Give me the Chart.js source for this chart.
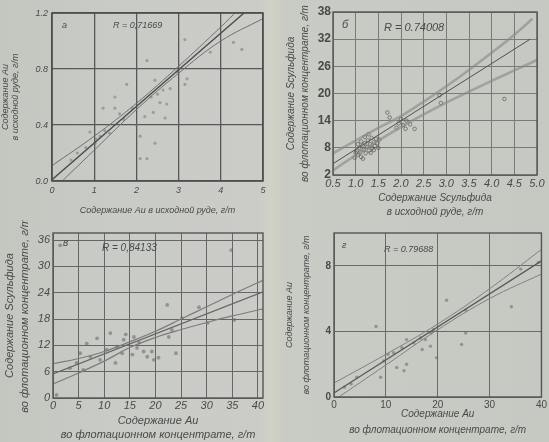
<!DOCTYPE html>
<html lang="ru">
<head>
<meta charset="UTF-8">
<title>Корреляционные зависимости</title>
<script src="https://cdn.jsdelivr.net/npm/chart.js"></script>
<style>
  html, body { margin: 0; padding: 0; }
  body {
    width: 549px; height: 442px; overflow: hidden; position: relative;
    background: linear-gradient(to right, #c3c7bf 0%, #c9cbc6 20%, #cbccc8 47%, #d0d1c6 49.6%, #c9cbc5 52%, #c6c9c2 100%);
  }
  canvas { position: absolute; filter: blur(0.45px); }
</style>
</head>
<body>
<canvas id="chA" width="274" height="220" style="left:0;top:0"></canvas>
<canvas id="chB" width="275" height="220" style="left:274px;top:0"></canvas>
<canvas id="chC" width="274" height="222" style="left:0;top:220px"></canvas>
<canvas id="chD" width="275" height="222" style="left:274px;top:220px"></canvas>

<script>
// ---- данные: а) Au в руде
const xTicksA = [0, 1, 2, 3, 4, 5];
const xLabelsA = ['0', '1', '2', '3', '4', '5'];
const yTicksA = [0, 0.4, 0.8, 1.2];
const yLabelsA = ['0.0', '0.4', '0.8', '1.2'];
const pointsA = [[2.25,0.86],[3.15,1.01],[4.5,0.94],[4.3,0.99],[1.77,0.69],[1.49,0.6],[1.49,0.52],[1.21,0.52],
  [2.44,0.72],[2.63,0.65],[2.8,0.66],[3.15,0.69],[2.56,0.56],[2.72,0.55],[2.2,0.46],[2.4,0.49],[2.68,0.45],
  [2.09,0.32],[2.44,0.27],[2.09,0.16],[2.25,0.16],[1.02,0.27],[1.14,0.32],[0.9,0.35],[1.37,0.34],[2.0,0.4],
  [1.9,0.52],[2.96,0.78],[3.2,0.73],[1.7,0.44],[0.8,0.24],[0.6,0.2],[0.45,0.15],[3.75,0.92],[1.05,0.3],
  [1.25,0.36],[2.35,0.6],[2.5,0.62],[1.6,0.48]];
const lineA = [[0, 0.01], [4.55, 1.2]];
const upperA = [[0,0.11],[1,0.32],[2,0.555],[3,0.82],[4,1.1],[4.4,1.22]];
const lowerA = [[0,-0.07],[1,0.22],[2,0.51],[3,0.77],[4,1.0],[5,1.16]];

// ---- б) S сульфида
const xTicksB = [0.5, 1.0, 1.5, 2.0, 2.5, 3.0, 3.5, 4.0, 4.5, 5.0];
const xLabelsB = ['0.5', '1.0', '1.5', '2.0', '2.5', '3.0', '3.5', '4.0', '4.5', '5.0'];
const yTicksB = [2, 8, 14, 20, 26, 32, 38];
const yLabelsB = ['2', '8', '14', '20', '26', '32', '38'];
const pointsB = [[1.02,7.2],[1.05,6.5],[1.08,8.0],[1.1,7.0],[1.12,6.0],[1.15,8.5],[1.18,7.6],[1.2,9.0],
  [1.22,6.8],[1.25,8.2],[1.27,9.6],[1.3,7.4],[1.32,8.8],[1.35,10.2],[1.37,7.9],[1.4,9.2],[1.42,8.4],
  [1.45,10.0],[1.48,9.0],[1.5,8.0],[1.52,9.8],[1.12,9.4],[1.2,10.4],[1.28,11.0],[0.98,5.8],[1.0,6.9],
  [1.16,5.6],[1.33,6.9],[1.4,7.5],[1.05,8.8],[1.7,15.8],[1.75,14.7],[1.95,13.4],[2.05,13.0],[2.1,12.2],
  [2.2,13.2],[2.3,12.2],[1.9,12.4],[2.85,19.6],[2.88,17.9],[4.28,18.8],[2.0,14.4],[2.12,14.0]];
const lineB = [[0.5, 4.5], [4.85, 32]];
const upperB = [[0.5,6.8],[1.0,9.6],[1.5,12.4],[2.0,15.0],[2.5,18.2],[3.0,21.6],[3.5,25.2],[4.0,29],[4.5,33],[4.9,36.5]];
const lowerB = [[0.5,3.0],[1.0,6.4],[1.5,9.6],[2.0,12.6],[2.5,15.4],[3.0,18.0],[3.5,20.4],[4.0,22.8],[4.5,25.1],[5.0,27.4]];

// ---- в) S сульфида / Au в концентрате
const xTicksC = [0, 5, 10, 15, 20, 25, 30, 35, 40];
const xLabelsC = ['0', '5', '10', '15', '20', '25', '30', '35', '40'];
const yTicksC = [0, 6, 12, 18, 24, 30, 36];
const yLabelsC = ['0', '6', '12', '18', '24', '30', '36'];
const pointsC = [[1.4,34.8],[0.7,0.7],[22.3,21.2],[25.2,18.2],[24,10.2],[12.2,8],[18.4,9.4],[19.7,8.7],
  [20.6,9.2],[6.6,12.4],[8.6,13.6],[10.5,11],[12.5,11.7],[13.8,13.3],[14.2,14.5],[15.8,13.9],[16.8,12.6],
  [16.4,11.4],[9.2,8.7],[7.3,9.4],[4.6,8],[3.3,6.8],[5.9,6.4],[5.3,10.2],[11.2,14.8],[13.5,10.2],
  [15.5,9.9],[17.7,10.6],[19.3,10.6],[22.6,13.9],[23.2,15.5],[35.4,17.8],[30.2,17.1],[28.5,20.7],[34.8,33.7]];
const lineC = [[0, 5.5], [41, 24.2]];
const upperC = [[0,7.8],[5,9],[10,10.6],[15,12.8],[20,15.2],[25,18],[30,20.8],[35,23.6],[41,26.8]];
const lowerC = [[0,3.2],[5,5.7],[10,8.4],[15,11.5],[20,13.8],[25,15.6],[30,17.2],[35,18.7],[41,20.3]];

// ---- г) Au в концентрате
const xTicksD = [0, 10, 20, 30, 40];
const xLabelsD = ['0', '10', '20', '30', '40'];
const yTicksD = [0, 4, 8];
const yLabelsD = ['0', '4', '8'];
const pointsD = [[21.7,5.9],[25.4,5.3],[24.6,3.2],[25.4,3.9],[8.1,4.3],[34.2,5.5],[36,7.8],[39.4,8.2],
  [19.8,2.4],[14,2.0],[13.5,1.6],[12.1,1.8],[9.6,2.2],[9,1.2],[4.4,1.2],[3.3,0.8],[2.0,0.6],[13.1,3.0],
  [14,3.5],[15.4,3.3],[16.7,3.6],[17.6,3.5],[18.7,3.9],[17,2.9],[11.5,2.7],[19.2,4.1],[18.6,3.1],[10.4,2.6]];
const lineD = [[0, 0.25], [40, 8.3]];
const upperD = [[0,0.85],[10,2.6],[20,4.45],[30,6.6],[40,9.0]];
const lowerD = [[0,-0.2],[10,1.95],[20,4.1],[30,6.0],[40,7.5]];

const FONT = "'Liberation Sans', Arial, sans-serif";
const INK = '#4a4a4a';

const xy = arr => arr.map(p => ({ x: p[0], y: p[1] }));

// рамка графика и надписи внутри поля
const frame = {
  id: 'frame',
  afterDraw(chart, args, o) {
    const { ctx, chartArea: a } = chart;
    ctx.save();
    ctx.strokeStyle = o.color;
    ctx.lineWidth = o.width;
    ctx.strokeRect(a.left, a.top, a.right - a.left, a.bottom - a.top);
    ctx.fillStyle = INK;
    ctx.textBaseline = 'middle';
    ctx.font = o.font;
    ctx.fillText(o.letter, a.left + o.letterDx, a.top + o.letterDy);
    ctx.fillText(o.r, a.left + o.rDx, a.top + o.rDy);
    ctx.restore();
  }
};

function axis(o) {
  return {
    type: 'linear',
    min: o.min, max: o.max,
    afterBuildTicks: s => { s.ticks = o.ticks.map(v => ({ value: v })); },
    afterFit: s => { if (o.width) s.width = o.width; if (o.height) s.height = o.height; },
    ticks: {
      color: INK, font: o.tickFont, padding: o.tickPad,
      callback: (v, i) => o.labels[i]
    },
    grid: { color: o.gridColor, lineWidth: o.gridWidth, drawTicks: false },
    border: { display: false },
    title: {
      display: true, text: o.title, color: INK, font: o.titleFont,
      padding: o.titlePad
    }
  };
}

function panel(id, o) {
  return new Chart(document.getElementById(id), {
    type: 'scatter',
    data: {
      datasets: [
        { data: xy(o.upper), showLine: true, borderColor: o.bandColor, borderWidth: o.bandWidth, pointRadius: 0, tension: 0.4 },
        { data: xy(o.lower), showLine: true, borderColor: o.bandColor, borderWidth: o.bandWidth, pointRadius: 0, tension: 0.4 },
        { data: xy(o.line), showLine: true, borderColor: o.lineColor, borderWidth: o.lineWidth, pointRadius: 0 },
        { data: xy(o.points), pointRadius: o.pointR, backgroundColor: o.pointFill,
          borderColor: o.pointStroke, borderWidth: o.pointBorder }
      ]
    },
    options: {
      responsive: false, animation: false, events: [],
      layout: { padding: { top: o.padTop, right: o.padRight, bottom: 0, left: 0 } },
      plugins: { legend: { display: false }, tooltip: { enabled: false }, frame: o.frame },
      scales: { x: axis(o.x), y: axis(o.y) }
    },
    plugins: [frame]
  });
}

panel('chA', {
  points: pointsA, line: lineA, upper: upperA, lower: lowerA,
  bandColor: '#707070', bandWidth: 1, lineColor: '#4e4e4e', lineWidth: 1.4,
  pointR: 1.6, pointFill: 'rgba(120,120,120,0.55)', pointStroke: 'rgba(0,0,0,0)', pointBorder: 0,
  padTop: 13, padRight: 11,
  frame: { color: '#4a4a4a', width: 1.5, font: 'italic 9px ' + FONT, letter: 'а', letterDx: 10, letterDy: 12, r: 'R = 0,71669', rDx: 61, rDy: 12 },
  x: { min: 0, max: 5, ticks: xTicksA, labels: xLabelsA, height: 39, tickFont: { family: FONT, size: 9, style: 'italic' }, tickPad: 4,
       gridColor: '#585858', gridWidth: 1.3, title: 'Содержание Au в исходной руде, г/т',
       titleFont: { family: FONT, size: 9, style: 'italic' }, titlePad: { top: 0, bottom: 4 } },
  y: { min: 0, max: 1.2, ticks: yTicksA, labels: yLabelsA, width: 52, tickFont: { family: FONT, size: 9, style: 'italic' }, tickPad: 4,
       gridColor: '#585858', gridWidth: 1.3, title: ['Содержание Au', 'в исходной руде, г/т'],
       titleFont: { family: FONT, size: 9, style: 'italic', lineHeight: '9.5px' }, titlePad: { top: 1, bottom: 0 } }
});

panel('chB', {
  points: pointsB, line: lineB, upper: upperB, lower: lowerB,
  bandColor: 'rgba(135,135,135,0.6)', bandWidth: 2.6, lineColor: '#505050', lineWidth: 1,
  pointR: 1.8, pointFill: 'rgba(0,0,0,0)', pointStroke: 'rgba(80,80,80,0.8)', pointBorder: 0.8,
  padTop: 12, padRight: 12,
  frame: { color: '#555', width: 1.4, font: 'italic 11px ' + FONT, letter: 'б', letterDx: 9, letterDy: 13, r: 'R = 0.74008', rDx: 51, rDy: 16 },
  x: { min: 0.5, max: 5.0, ticks: xTicksB, labels: xLabelsB, height: 45, tickFont: { family: FONT, size: 11, style: 'italic' }, tickPad: 2,
       gridColor: '#7a7a7a', gridWidth: 1, title: ['Содержание Sсульфида', 'в исходной руде, г/т'],
       titleFont: { family: FONT, size: 10, style: 'italic', lineHeight: '14px' }, titlePad: { top: 0, bottom: 1 } },
  y: { min: 2, max: 38, ticks: yTicksB, labels: yLabelsB, width: 59, tickFont: { family: FONT, size: 12, weight: 'bold' }, tickPad: 2,
       gridColor: '#7a7a7a', gridWidth: 1, title: ['Содержание Sсульфида', 'во флотационном концентрате, г/т'],
       titleFont: { family: FONT, size: 10, style: 'italic', lineHeight: '14px' }, titlePad: { top: 10, bottom: 0 } }
});

panel('chC', {
  points: pointsC, line: lineC, upper: upperC, lower: lowerC,
  bandColor: '#7c7c7c', bandWidth: 1.2, lineColor: '#666', lineWidth: 1.3,
  pointR: 1.9, pointFill: 'rgba(100,100,100,0.55)', pointStroke: 'rgba(0,0,0,0)', pointBorder: 0,
  padTop: 13, padRight: 11,
  frame: { color: '#555', width: 1.4, font: 'italic 10px ' + FONT, letter: 'в', letterDx: 10, letterDy: 10, r: 'R = 0,84133', rDx: 49, rDy: 15 },
  x: { min: 0, max: 41, ticks: xTicksC, labels: xLabelsC, height: 44, tickFont: { family: FONT, size: 11, style: 'italic' }, tickPad: 1,
       gridColor: '#666', gridWidth: 1, title: ['Содержание Au', 'во флотационном концентрате, г/т'],
       titleFont: { family: FONT, size: 11, style: 'italic', lineHeight: '14px' }, titlePad: { top: 0, bottom: 0 } },
  y: { min: 0, max: 37.6, ticks: yTicksC, labels: yLabelsC, width: 53, tickFont: { family: FONT, size: 11, style: 'italic' }, tickPad: 3,
       gridColor: '#666', gridWidth: 1, title: ['Содержание Sсульфида', 'во флотационном концентрате, г/т'],
       titleFont: { family: FONT, size: 11, style: 'italic', lineHeight: '15px' }, titlePad: { top: 2, bottom: 0 } }
});

panel('chD', {
  points: pointsD, line: lineD, upper: upperD, lower: lowerD,
  bandColor: '#808080', bandWidth: 1, lineColor: '#5a5a5a', lineWidth: 1.2,
  pointR: 1.7, pointFill: 'rgba(110,110,110,0.6)', pointStroke: 'rgba(0,0,0,0)', pointBorder: 0,
  padTop: 13, padRight: 7,
  frame: { color: '#555', width: 1.4, font: 'italic 9px ' + FONT, letter: 'г', letterDx: 8, letterDy: 12, r: 'R = 0.79688', rDx: 50, rDy: 16 },
  x: { min: 0, max: 40, ticks: xTicksD, labels: xLabelsD, height: 45, tickFont: { family: FONT, size: 10 }, tickPad: 2,
       gridColor: '#6a6a6a', gridWidth: 1, title: ['Содержание Au', 'во флотационном концентрате, г/т'],
       titleFont: { family: FONT, size: 10, style: 'italic', lineHeight: '16px' }, titlePad: { top: 0, bottom: 4 } },
  y: { min: 0, max: 10, ticks: yTicksD, labels: yLabelsD, width: 60, tickFont: { family: FONT, size: 10, weight: 'bold' }, tickPad: 3,
       gridColor: '#6a6a6a', gridWidth: 1, title: ['Содержание Au', 'во флотационном концентрате, г/т'],
       titleFont: { family: FONT, size: 9, style: 'italic', lineHeight: '17px' }, titlePad: { top: 7, bottom: 0 } }
});
</script>
</body>
</html>
